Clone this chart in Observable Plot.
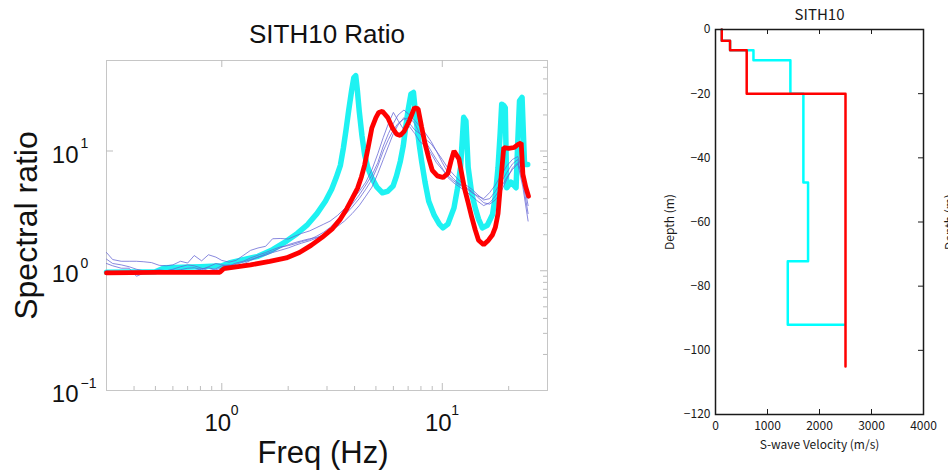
<!DOCTYPE html>
<html><head><meta charset="utf-8">
<script src="https://cdn.jsdelivr.net/npm/d3@7"></script>
<script src="https://cdn.jsdelivr.net/npm/@observablehq/plot@0.6"></script>
<style>
html,body{margin:0;padding:0;background:#fff;width:948px;height:473px;overflow:hidden}
#wrap{position:relative;width:948px;height:473px}
#left{position:absolute;left:0;top:0}
#right{position:absolute;left:640px;top:0}
</style></head><body><div id="wrap"><div id="left"></div><div id="right"></div></div>
<script>
// ---------- Left panel: spectral ratio ----------
const redFreq = [0.30,0.50,0.70,0.98,1.02,1.35,1.65,1.96,2.25,2.54,2.85,3.18,3.45,3.69,3.9,4.13,4.3,4.44,4.6,4.79,5.0,5.15,5.35,5.66,5.95,6.21,6.45,6.70,7.1,7.48,7.77,8.05,8.36,8.7,9.01,9.5,10.07,10.6,11.0,11.3,11.9,12.6,13.1,13.6,14.1,14.6,15.4,16.2,16.9,17.4,17.9,18.4,19.0,20.0,21.2,22.0,22.8,23.2,23.9,24.6];
const redRatio = [0.96,0.97,0.97,0.97,1.04,1.12,1.2,1.28,1.42,1.63,1.9,2.25,2.7,3.3,4.0,4.9,6.1,7.6,10.5,15.5,19.0,21.0,21.5,19.0,15.5,13.8,13.5,14.5,18,23,22.5,16,11.4,8.6,6.9,6.2,6.0,6.5,8.5,10,8.6,4.9,3.7,2.8,2.2,1.8,1.65,1.8,2.0,2.3,3.0,5.5,10.7,10.5,10.7,11.3,11.7,6.4,5.0,4.2];

const cyanFreq = [0.30,0.50,0.55,0.80,1.00,1.08,1.28,1.46,1.70,1.96,2.2,2.45,2.7,2.95,3.15,3.30,3.45,3.56,3.66,3.76,3.88,3.97,4.05,4.12,4.2,4.32,4.44,4.6,4.79,5.05,5.35,5.65,5.98,6.2,6.45,6.65,6.82,7.0,7.21,7.4,7.62,7.85,8.06,8.35,8.68,9.2,9.7,10.07,10.6,11.3,11.7,12.1,12.5,12.8,13.1,13.6,14.1,14.6,15.2,16.0,16.9,17.4,17.9,18.3,18.6,19.0,19.3,19.6,20.5,21.6,22.0,22.4,23.0,23.6,24.4];
const cyanRatio = [0.97,0.98,1.06,1.08,1.10,1.16,1.25,1.32,1.50,1.76,2.05,2.43,3.0,3.81,4.8,5.97,7.6,10.6,15,21.6,32,41,42.5,32,21.6,13.5,9.4,7.2,5.97,5.0,4.48,4.6,5.1,6.2,8.2,11,15.7,22,29.9,30.8,17.8,11.5,8.2,5.5,3.81,2.9,2.45,2.28,2.45,3.35,4.8,7.3,19.1,17.8,7.3,4.4,3.35,2.7,2.28,2.4,2.95,4.2,7.3,14,24.6,24,23,4.93,5.5,4.93,12,26.2,28,7.7,7.7];

const obsFreq = [0.30,0.32,0.35,0.38,0.41,0.44,0.48,0.52,0.56,0.60,0.65,0.70,0.75,0.81,0.87,0.94,1.00,1.08,1.16,1.25,1.35,1.46,1.58,1.70,1.84,2.0,2.15,2.3,2.5,2.7,2.9,3.1,3.35,3.6,3.9,4.2,4.5,4.8,5.1,5.4,5.7,6.0,6.3,6.7,7.1,7.5,7.9,8.4,8.9,9.4,10.0,10.6,11.3,12.0,12.8,13.6,14.5,15.4,16.4,17.4,18.5,19.6,20.8,22.0,23.2,24.5];
const obs1 = [1.42,1.24,1.20,1.20,1.20,1.19,1.17,1.11,1.10,1.12,1.20,1.16,1.34,1.21,1.36,1.30,1.22,1.18,1.22,1.34,1.48,1.55,1.60,1.85,1.86,1.84,1.95,2.05,2.15,2.3,2.45,2.6,2.9,3.3,3.9,4.6,5.5,7.0,9.5,13,17,21,18,15,16,14,12,11,9.5,8.0,7.0,6.2,5.6,5.2,4.9,4.5,4.2,4.0,4.5,5.2,6.3,7.5,8.5,9.0,6.5,4.0];
const obs2 = [1.15,1.10,1.05,1.05,0.90,0.95,1.00,1.02,1.00,1.03,1.08,1.12,1.10,1.05,1.00,1.04,1.10,1.12,1.08,1.14,1.22,1.30,1.38,1.45,1.55,1.65,1.72,1.78,1.85,1.9,2.0,2.15,2.35,2.6,3.0,3.5,4.2,5.0,6.5,8.5,11,14,16.5,19,17,15,14,12.5,11.5,10,8.5,7.2,6.3,5.6,5.2,4.8,4.3,3.9,4.0,4.6,5.5,6.6,7.8,8.5,5.5,3.0];
const obs3 = [1.0,0.98,0.97,0.96,0.95,0.97,0.96,0.98,1.0,1.02,0.98,0.97,1.0,1.04,1.06,1.02,1.05,1.10,1.13,1.18,1.24,1.30,1.35,1.42,1.48,1.55,1.63,1.7,1.78,1.88,2.0,2.2,2.5,2.9,3.4,4.0,4.8,5.8,7.5,10,12.5,15,17,18.5,19,17,14,12,10,8.5,7.2,6.0,5.4,5.0,4.6,4.2,3.8,3.5,3.7,4.2,5.0,6.0,7.0,7.8,5.0,2.6];
const obs4 = [1.25,1.15,1.12,1.08,1.03,1.0,0.98,0.96,0.98,1.0,1.02,1.05,1.06,1.02,1.08,1.15,1.12,1.10,1.16,1.20,1.28,1.35,1.42,1.5,1.58,1.62,1.68,1.75,1.82,1.95,2.1,2.3,2.65,3.0,3.6,4.3,5.2,6.3,8.0,11,14,17,20,22,20,18,16,14,12,10,8.0,6.6,5.8,5.3,5.0,4.6,4.1,3.7,3.6,3.9,4.6,5.8,7.2,8.0,6.0,3.5];

const xTickVals = [1, 10];
const xTickExps = ["0", "1"];
const yTickVals = [0.1, 1, 10];
const yTickExps = ["\u22121", "0", "1"];
const xMinorTicks = [0.4,0.5,0.6,0.7,0.8,0.9,2,3,4,5,6,7,8,9,20];
const yMinorTicks = [0.2,0.3,0.4,0.5,0.6,0.7,0.8,0.9,2,3,4,5,6,7,8,9,20,30,40,50];

// ---------- Right panel: velocity profile ----------
const redVel = [120,120,280,280,600,600,2500,2500];
const redDepth = [0,-3.5,-3.5,-6.5,-6.5,-20,-20,-105];
const cyanVel = [120,120,280,280,730,730,1440,1440,1690,1690,1780,1780,1390,1390,2470];
const cyanDepth = [0,-3.5,-3.5,-6.5,-6.5,-9.6,-9.6,-20,-20,-47.7,-47.7,-72.2,-72.2,-92,-92];
const velTicks = [0,1000,2000,3000,4000];
const depthTicks = [0,-20,-40,-60,-80,-100,-120];

const redData = redFreq.map((f,i)=>({f, r: redRatio[i]}));
const cyanData = cyanFreq.map((f,i)=>({f, r: cyanRatio[i]}));
const obsData = [obs1, obs2, obs3, obs4].flatMap((arr, k) => obsFreq.map((f,i)=>({f, r: arr[i], s: k})));
const redProf = redVel.map((v,i)=>({v, d: redDepth[i]}));
const cyanProf = cyanVel.map((v,i)=>({v, d: cyanDepth[i]}));

const LW = 560, LH = 473, LML = 106, LMR = 13, LMT = 60, LMB = 83;
const FW = LW - LML - LMR, FH = LH - LMT - LMB;
const gray = "#bdbdbd";
const leftFont = "'Liberation Sans', Arial, sans-serif";

const left = Plot.plot({
  width: LW, height: LH,
  marginLeft: LML, marginRight: LMR, marginTop: LMT, marginBottom: LMB,
  x: {type: "log", domain: [0.3, 30], axis: null},
  y: {type: "log", domain: [0.1, 57], axis: null},
  style: {fontFamily: leftFont, background: "transparent", overflow: "visible", color: "#111"},
  marks: [
    Plot.frame({stroke: "#c6c6c6", strokeWidth: 1}),
    Plot.tickX(xMinorTicks, {x: d => d, insetTop: FH - 4, stroke: gray}),
    Plot.tickX(xTickVals, {x: d => d, insetTop: FH - 7, stroke: gray}),
    Plot.tickX(xTickVals, {x: d => d, insetBottom: FH - 7, stroke: gray}),
    Plot.tickY(yMinorTicks, {y: d => d, insetLeft: FW - 4, stroke: gray}),
    Plot.tickY([1, 10], {y: d => d, insetLeft: FW - 7, stroke: gray}),
    Plot.tickY([1, 10], {y: d => d, insetRight: FW - 7, stroke: gray}),
    Plot.line(cyanData, {x: "f", y: "r", stroke: "#1ef2f2", strokeWidth: 5.5, strokeLinejoin: "round"}),
    Plot.line(obsData, {x: "f", y: "r", z: "s", stroke: "#6464d4", strokeWidth: 0.9, strokeOpacity: 0.85}),
    Plot.line(redData, {x: "f", y: "r", stroke: "#ff0000", strokeWidth: 4.8, strokeLinejoin: "miter"}),
    Plot.text(yTickVals, {y: d => d, frameAnchor: "left", text: () => "10", textAnchor: "end", lineAnchor: "middle", dx: -28, dy: 4, fontSize: 24, fill: "#111"}),
    Plot.text(yTickVals, {y: d => d, frameAnchor: "left", text: (d, i) => yTickExps[i], textAnchor: "start", lineAnchor: "middle", dx: -26, dy: -7, fontSize: 14, fill: "#111"}),
    Plot.text(xTickVals, {x: d => d, frameAnchor: "bottom", text: () => "10", textAnchor: "middle", lineAnchor: "middle", dx: -4, dy: 33, fontSize: 24, fill: "#111"}),
    Plot.text(xTickVals, {x: d => d, frameAnchor: "bottom", text: (d, i) => xTickExps[i], textAnchor: "start", lineAnchor: "middle", dx: 9, dy: 20, fontSize: 14, fill: "#111"}),
    Plot.text(["SITH10 Ratio"], {frameAnchor: "top", textAnchor: "middle", lineAnchor: "middle", dy: -26, fontSize: 26, fill: "#111", style: "letter-spacing:0.6px"}),
    Plot.text(["Spectral ratio"], {frameAnchor: "left", textAnchor: "middle", lineAnchor: "middle", rotate: -90, dx: -80, fontSize: 32, fill: "#111"}),
    Plot.text(["Freq (Hz)"], {frameAnchor: "bottom", textAnchor: "middle", lineAnchor: "middle", dy: 63, dx: -4, fontSize: 31, fill: "#111"})
  ]
});
document.getElementById("left").appendChild(left);

const RW = 308, RH = 473, RML = 75, RMR = 25, RMT = 29, RMB = 59;
const RFW = RW - RML - RMR, RFH = RH - RMT - RMB;
const ink = "#1a1a1a";
const fmt = d => d < 0 ? "\u2212" + Math.abs(d) : String(d);

const right = Plot.plot({
  width: RW, height: RH,
  marginLeft: RML, marginRight: RMR, marginTop: RMT, marginBottom: RMB,
  x: {domain: [0, 4000], axis: null},
  y: {domain: [-120, 0], axis: null},
  style: {fontFamily: "'Noto Sans CJK JP', 'DejaVu Sans', sans-serif", fontSize: "12px", background: "transparent", overflow: "visible", color: ink},
  marks: [
    Plot.line(cyanProf, {x: "v", y: "d", stroke: "#00ffff", strokeWidth: 2.5}),
    Plot.line(redProf, {x: "v", y: "d", stroke: "#ff0000", strokeWidth: 2.5}),
    Plot.frame({stroke: ink, strokeWidth: 1.5}),
    Plot.tickX([1000, 2000, 3000], {x: d => d, insetTop: RFH - 5, stroke: ink}),
    Plot.tickX([1000, 2000, 3000], {x: d => d, insetBottom: RFH - 5, stroke: ink}),
    Plot.tickY([-20, -40, -60, -80, -100], {y: d => d, insetLeft: RFW - 5, stroke: ink}),
    Plot.text(velTicks, {x: d => d, frameAnchor: "bottom", textAnchor: "middle", lineAnchor: "middle", dy: 12, text: d => String(d), fontSize: 12, fill: ink}),
    Plot.text(depthTicks, {y: d => d, frameAnchor: "left", dx: -5, textAnchor: "end", lineAnchor: "middle", text: fmt, fontSize: 12, fill: ink}),
    Plot.text(["S-wave Velocity (m/s)"], {frameAnchor: "bottom", textAnchor: "middle", lineAnchor: "middle", dy: 31, fontSize: 12, fill: ink}),
    Plot.text(["Depth (m)"], {frameAnchor: "left", textAnchor: "middle", lineAnchor: "middle", rotate: -90, dx: -45, fontSize: 12, fill: ink}),
    Plot.text(["SITH10"], {frameAnchor: "top", textAnchor: "middle", lineAnchor: "middle", dy: -14, fontSize: 15, fill: ink}),
    Plot.text(["Depth (m)"], {frameAnchor: "right", textAnchor: "middle", lineAnchor: "middle", rotate: -90, dx: 27, fontSize: 12, fill: ink})
  ]
});
document.getElementById("right").appendChild(right);
</script></body></html>
